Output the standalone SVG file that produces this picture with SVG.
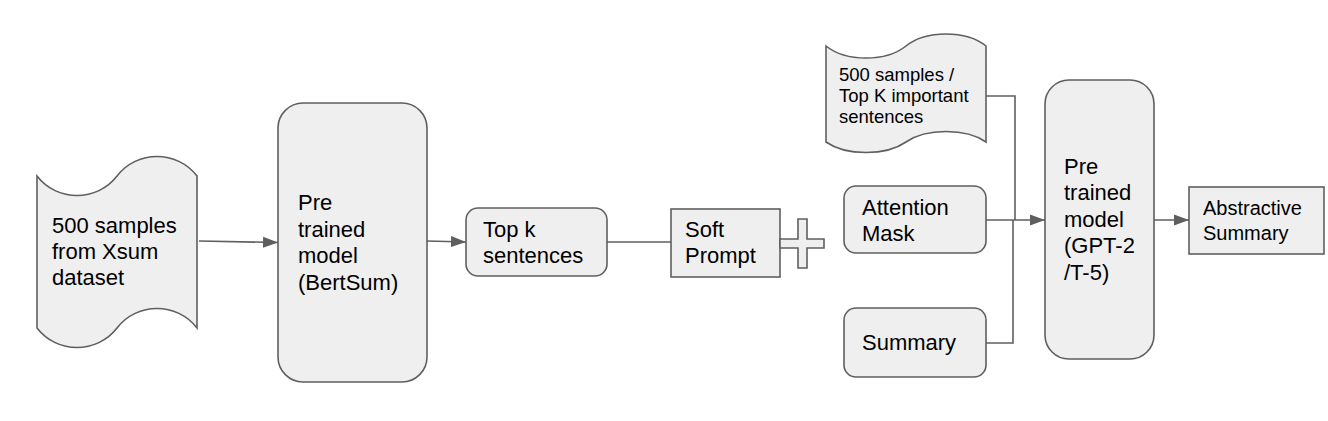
<svg xmlns="http://www.w3.org/2000/svg" width="1328" height="421" viewBox="0 0 1328 421">
<style>
.shape{fill:#efefef;stroke:#5f5f5f;stroke-width:1.6}
.conn{fill:none;stroke:#5f5f5f;stroke-width:1.6}
text{font-family:"Liberation Sans",Arial,sans-serif;font-size:22px;fill:#000}
.sm{font-size:18.5px}
.md{font-size:20px}
</style>
<defs>
<marker id="arr" markerUnits="userSpaceOnUse" markerWidth="16" markerHeight="12" refX="15" refY="6" orient="auto">
<path d="M0,0.5 L15,6 L0,11.5 Z" fill="#5f5f5f"/>
</marker>
</defs>
<rect width="1328" height="421" fill="#fff"/>
<g id="connectors">
<path class="conn" d="M199,241 L278,242.5" marker-end="url(#arr)"/>
<path class="conn" d="M427,241 L466,242" marker-end="url(#arr)"/>
<path class="conn" d="M607,242 L671,242"/>
<path class="conn" d="M986,96 H1015 V220"/>
<path class="conn" d="M986,343 H1013 V220"/>
<path class="conn" d="M986,220 H1045" marker-end="url(#arr)"/>
<path class="conn" d="M1154,220 H1189" marker-end="url(#arr)"/>
</g>
<g id="doc1">
<path class="shape" d="M37,176 C57,202 97,202 117,176 C137,150 177,150 197,176 L197,328 C177,302 137,302 117,328 C97,354 57,354 37,328 Z"/>
<text x="52" y="233">500 samples</text>
<text x="52" y="259">from Xsum</text>
<text x="52" y="285">dataset</text>
</g>
<g id="bertsum">
<rect class="shape" x="278" y="103" width="149" height="279" rx="25"/>
<text x="298" y="210">Pre</text>
<text x="298" y="237">trained</text>
<text x="298" y="263">model</text>
<text x="298" y="290">(BertSum)</text>
</g>
<g id="topk">
<rect class="shape" x="466" y="208" width="141" height="68" rx="12"/>
<text x="483" y="237">Top k</text>
<text x="483" y="263">sentences</text>
</g>
<g id="softprompt">
<rect class="shape" x="671" y="209" width="109" height="68"/>
<text x="685" y="237">Soft</text>
<text x="685" y="263">Prompt</text>
</g>
<g id="plus">
<path class="shape" d="M780,239 H798 V219 H807 V239 H824 V248 H807 V268 H798 V248 H780 Z"/>
</g>
<g id="doc2">
<path class="shape" d="M826,46 C846,62 886,62 906,46 C926,30 966,30 986,46 L986,142 C966,128 926,128 906,142 C886,156 846,156 826,142 Z"/>
<text class="sm" x="839" y="81">500 samples /</text>
<text class="sm" x="839" y="102">Top K important</text>
<text class="sm" x="839" y="123">sentences</text>
</g>
<g id="attention">
<rect class="shape" x="844" y="186" width="142" height="67" rx="12"/>
<text x="862" y="215">Attention</text>
<text x="862" y="241">Mask</text>
</g>
<g id="summary">
<rect class="shape" x="844" y="308" width="142" height="69" rx="12"/>
<text x="862" y="350">Summary</text>
</g>
<g id="gpt">
<rect class="shape" x="1045" y="80" width="109" height="279" rx="24"/>
<text x="1064" y="174">Pre</text>
<text x="1064" y="200">trained</text>
<text x="1064" y="227">model</text>
<text x="1064" y="253">(GPT-2</text>
<text x="1064" y="280">/T-5)</text>
</g>
<g id="abstractive">
<rect class="shape" x="1189" y="187" width="135" height="67"/>
<text class="md" x="1203" y="215">Abstractive</text>
<text class="md" x="1203" y="240">Summary</text>
</g>
</svg>
